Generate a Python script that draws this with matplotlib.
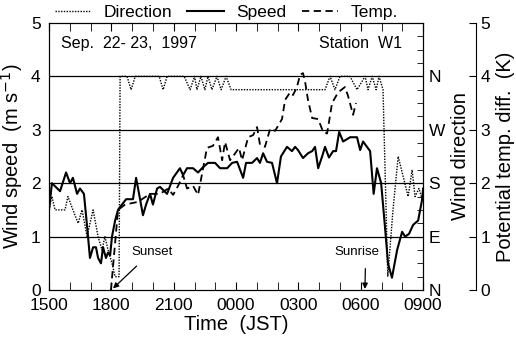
import matplotlib
matplotlib.use('Agg')
import matplotlib.pyplot as plt
from matplotlib.lines import Line2D
from matplotlib.ticker import MultipleLocator

plt.rcParams['font.family'] = ['Liberation Sans', 'DejaVu Sans']

# hours after 1500 JST
speed_t = [0.0, 0.14, 0.53, 0.82, 1.01, 1.15, 1.35, 1.49, 1.68, 1.83, 1.97, 2.12,
           2.26, 2.36, 2.50, 2.60, 2.74, 2.84, 2.94, 3.03, 3.18, 3.32, 3.51, 3.71,
           4.04, 4.19, 4.38, 4.52, 4.67, 4.86, 5.00, 5.20, 5.34, 5.68, 5.97, 6.30,
           6.45, 6.64, 6.93, 7.17, 7.36, 7.65, 7.99, 8.23, 8.57, 8.81, 9.05, 9.34,
           9.48, 9.77, 10.01, 10.15, 10.30, 10.49, 10.73, 10.97, 11.16, 11.45,
           11.69, 11.84, 11.98, 12.22, 12.46, 12.66, 12.80, 12.95, 13.14, 13.28,
           13.47, 13.67, 13.81, 13.96, 14.15, 14.49, 14.82, 14.97, 15.11, 15.45,
           15.62, 15.78, 15.98, 16.17, 16.31, 16.50, 16.75, 16.99, 17.13, 17.32,
           17.52, 17.76, 17.95, 18.0]
speed = [1.5, 2.0, 1.85, 2.2, 2.0, 2.1, 1.8, 1.9, 1.8, 1.2, 0.6, 0.8,
         0.8, 0.6, 0.5, 0.8, 0.6, 0.7, 0.65, 1.0, 1.3, 1.5, 1.6, 1.7,
         1.7, 2.1, 1.7, 1.4, 1.6, 1.8, 1.6, 1.9, 1.93, 1.8, 2.1, 2.28,
         2.15, 2.28, 2.28, 2.2, 2.28, 2.38, 2.38, 2.28, 2.28, 2.38, 2.4, 2.1,
         2.38, 2.38, 2.47, 2.38, 2.56, 2.4, 2.38, 2.0, 2.5, 2.68,
         2.6, 2.68, 2.62, 2.47, 2.56, 2.6, 2.68, 2.28, 2.5, 2.68,
         2.48, 2.6, 2.6, 2.96, 2.78, 2.86, 2.86, 2.62, 2.78, 2.6,
         1.8, 2.28, 2.0, 1.16, 0.5, 0.23, 0.75, 1.09, 1.0, 1.05,
         1.22, 1.3, 1.69, 1.9]

# wind direction, 0 = N, 1 = E, 2 = S, 3 = W, 4 = N
dir_t = [0.0, 0.14, 0.29, 0.77, 0.91, 1.15, 1.40, 1.59, 1.83, 2.12, 2.36, 2.55,
         2.69, 2.84, 3.03, 3.18, 3.37, 3.42, 3.75, 3.95, 4.15, 5.30, 5.49, 5.68,
         6.50, 6.79, 7.00, 7.12, 7.31, 7.50, 7.65, 7.84, 8.08, 8.28, 8.52, 8.76,
         9.00, 11.30, 13.28, 13.52, 13.76, 14.00, 14.48, 14.82, 15.21, 15.35, 15.55,
         15.74, 15.88, 16.07, 16.30, 16.55, 16.80, 17.28, 17.47, 17.61, 17.80, 17.95]
direction = [1.5, 1.75, 1.5, 1.5, 1.75, 1.5, 1.25, 1.5, 1.0, 1.5, 1.0, 0.75,
             1.0, 0.75, 0.5, 0.25, 0.25, 4.0, 4.0, 3.75, 4.0, 4.0, 3.75, 4.0,
             4.0, 3.75, 4.0, 3.75, 4.0, 3.75, 4.0, 3.75, 4.0, 3.75, 4.0, 3.75,
             3.75, 3.75, 3.75, 4.0, 3.75, 4.0, 4.0, 3.75, 4.0, 3.75, 4.0,
             3.75, 4.0, 3.75, 0.25, 1.5, 2.5, 1.75, 2.25, 1.75, 1.9, 1.7]

temp_t = [2.98, 3.32, 3.66, 4.28, 4.86, 5.34, 5.73, 5.97, 6.21, 6.45, 6.64, 6.93,
          7.17, 7.60, 7.89, 8.13, 8.33, 8.47, 8.71, 8.85, 9.14, 9.29, 9.58, 9.82,
          10.01, 10.15, 10.39, 10.64, 10.88, 11.21, 11.36, 11.60, 11.74, 11.93,
          12.08, 12.22, 12.32, 12.46, 12.66, 12.95, 13.19, 13.38, 13.62, 13.91,
          14.24, 14.39, 14.63, 14.77]
temp = [0.0, 1.5, 1.6, 1.65, 1.8, 1.8, 1.9, 1.78, 1.95, 2.15, 1.9, 1.95,
        1.78, 2.66, 2.7, 2.86, 2.43, 2.77, 2.43, 2.5, 2.66, 2.43, 2.86, 2.9,
        3.05, 2.72, 2.68, 3.02, 2.98, 3.2, 3.56, 3.7, 3.65, 3.8,
        4.03, 4.06, 3.9, 3.56, 3.22, 3.2, 2.96, 2.93, 3.5, 3.7,
        3.8, 3.63, 3.28, 3.5]

hour_ticks = [0, 3, 6, 9, 12, 15, 18]
hour_labels = ['1500', '1800', '2100', '0000', '0300', '0600', '0900']
dir_labels = ['N', 'E', 'S', 'W', 'N']

fig = plt.figure(figsize=(5.16, 3.42), dpi=100)
ax = fig.add_axes([0.095, 0.152, 0.725, 0.781])

for v in [1, 2, 3, 4]:
    ax.axhline(v, color='black', lw=0.9, zorder=1)

ax.plot(speed_t, speed, color='black', lw=1.5, ls='-')
ax.plot(dir_t, direction, color='black', lw=1.0, ls=(0, (1, 1)))

ax.set_xlim(0, 18)
ax.set_ylim(0, 5)
ax.set_xticks(hour_ticks)
ax.set_xticklabels(hour_labels)
ax.xaxis.set_minor_locator(MultipleLocator(1))
ax.set_yticks([0, 1, 2, 3, 4, 5])
ax.tick_params(axis='both', which='both', direction='in', top=True, labelsize=12.5)
ax.tick_params(axis='x', which='major', length=6, pad=6)
ax.tick_params(axis='x', which='minor', length=6)
ax.tick_params(axis='y', length=0, pad=6)
ax.set_xlabel('Time  (JST)', fontsize=14.5, labelpad=1)
ax.set_ylabel('Wind speed  (m s$^{-1}$)', fontsize=14.5, labelpad=4)

ax2 = ax.twinx()
ax2.set_ylim(0, 5)
ax2.set_yticks([0, 1, 2, 3, 4])
ax2.set_yticklabels(dir_labels)
ax2.yaxis.set_minor_locator(MultipleLocator(0.25))
ax2.tick_params(axis='y', which='both', direction='in', labelsize=12.5, pad=4)
ax2.tick_params(axis='y', which='major', length=0)
ax2.tick_params(axis='y', which='minor', length=4)
ax2.set_ylabel('Wind direction', fontsize=14.5, labelpad=4)

ax3 = ax.twinx()
ax3.spines['right'].set_position(('axes', 1.142))
for s in ['top', 'bottom', 'left']:
    ax3.spines[s].set_visible(False)
ax3.plot(temp_t, temp, color='black', lw=1.3, ls=(0, (4, 2.5)))
ax3.set_ylim(0, 5)
ax3.set_yticks([0, 1, 2, 3, 4, 5])
ax3.tick_params(axis='y', direction='in', length=5, labelsize=12.5, pad=3)
ax3.set_ylabel('Potential temp. diff.  (K)', fontsize=14.5, labelpad=4)

ax.text(0.6, 4.62, 'Sep.  22- 23,  1997', fontsize=11.5, va='center')
ax.text(17.0, 4.62, 'Station  W1', fontsize=11.5, va='center', ha='right')

ax.annotate('Sunset', xy=(3.08, 0.03), xytext=(4.95, 0.72), fontsize=9.5,
            ha='center', va='center',
            arrowprops=dict(arrowstyle='-|>', color='black', lw=0.9,
                            shrinkA=6, shrinkB=0, mutation_scale=8))
ax.annotate('Sunrise', xy=(15.2, 0.02), xytext=(14.8, 0.72), fontsize=9.5,
            ha='center', va='center',
            arrowprops=dict(arrowstyle='-|>', color='black', lw=0.9,
                            shrinkA=6, shrinkB=0, mutation_scale=8,
                            relpos=(0.7, 0.0)))

handles = [Line2D([], [], color='black', lw=1.0, ls=(0, (1, 1))),
           Line2D([], [], color='black', lw=1.5, ls='-'),
           Line2D([], [], color='black', lw=1.3, ls=(0, (4, 2.5)))]
ax.legend(handles, ['Direction', 'Speed', 'Temp.'], loc='lower left',
          bbox_to_anchor=(0.015, 1.012), ncol=3, frameon=False, fontsize=12.5,
          handlelength=2.1, columnspacing=0.9, handletextpad=0.7,
          borderaxespad=0, borderpad=0)

fig.savefig('out.png', dpi=100)
